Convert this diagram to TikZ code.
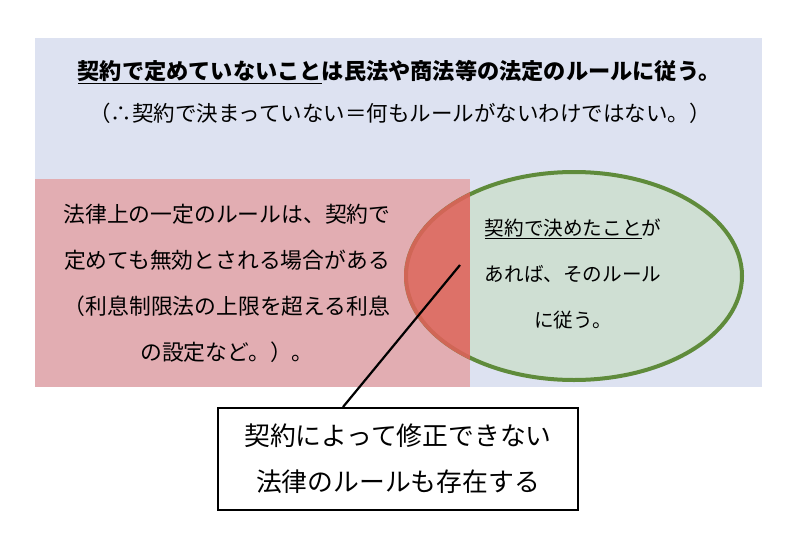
\documentclass[tikz,border=0pt]{standalone}
\usepackage{fontspec}
\setmainfont{Noto Sans CJK JP}
\usetikzlibrary{calc}
\definecolor{bgblue}{HTML}{DDE2F1}
\definecolor{pinkbox}{HTML}{E2ADB2}
\definecolor{ellfill}{HTML}{CFDFD3}
\definecolor{ellline}{HTML}{5F8B3B}
\definecolor{lensred}{HTML}{E0625A}
\newcommand{\myul}[1]{\underline{#1}}
\tikzset{
  txt/.style={inner sep=0pt, align=center, text=black},
  callout/.style={draw=black, line width=2pt, fill=white, minimum width=360pt, minimum height=102pt, align=center, inner sep=0pt},
  leader/.style={draw=black, line width=2.2pt}
}
\begin{document}
\begin{tikzpicture}[x=1pt,y=-1pt]
\useasboundingbox (0,0) rectangle (800,551);
\fill[white] (0,0) rectangle (800,551);
\fill[bgblue] (35,38) rectangle (762,387);
\fill[pinkbox] (35,179) rectangle (470,387);
\fill[ellfill] (574,276) ellipse [x radius=168pt, y radius=104pt];
\draw[ellline, line width=4pt] (574,276) ellipse [x radius=168pt, y radius=104pt];
\begin{scope}
  \clip (35,179) rectangle (470,387);
  \clip (574,276) ellipse [x radius=170pt, y radius=106pt];
  \fill[lensred, opacity=0.88] (35,179) rectangle (470,387);
\end{scope}
\node[txt, font=\fontsize{22.2}{26}\selectfont\bfseries] (title) at (399,72)
  {\myul{契約で定めていないこと}は民法や商法等の法定のルールに従う。};
\node[txt, font=\fontsize{21.5}{26}\selectfont] (sub) at (400,113)
  {（∴契約で決まっていない＝何もルールがないわけではない。）};
\node[txt, font=\fontsize{21.8}{46}\selectfont] (left) at (227,283)
  {法律上の一定のルールは、契約で\\定めても無効とされる場合がある\\（利息制限法の上限を超える利息\\の設定など。）。};
\node[txt, font=\fontsize{19.6}{46}\selectfont] (right) at (573,274)
  {\myul{契約で決めたこと}が\\あれば、そのルール\\に従う。};
\node[callout, font=\fontsize{25.8}{46}\selectfont] (box) at (398,459)
  {契約によって修正できない\\法律のルールも存在する};
\coordinate (lens) at (460,265);
\draw[leader] (lens) -- ($(box.north)+(-55,0)$);
\end{tikzpicture}
\end{document}
